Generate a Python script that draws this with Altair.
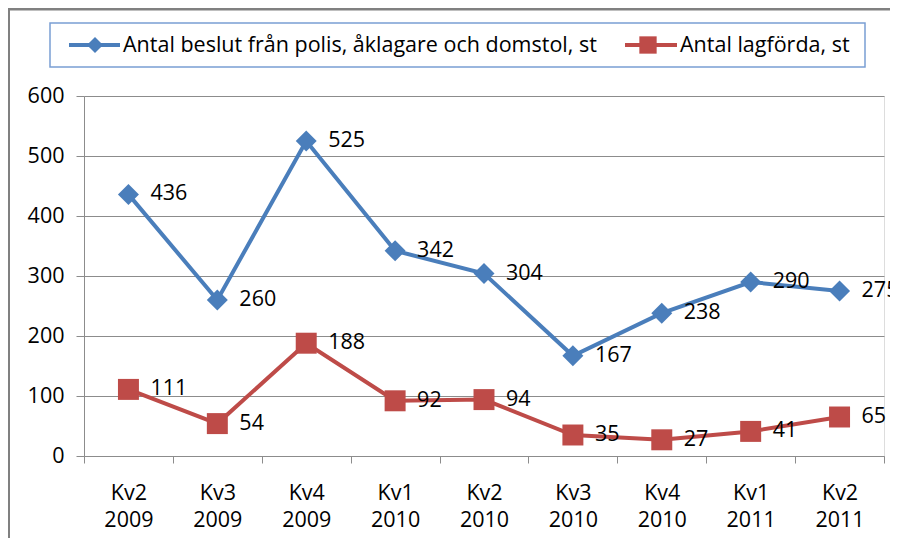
import altair as alt
import pandas as pd

categories = ["Kv2 2009", "Kv3 2009", "Kv4 2009", "Kv1 2010", "Kv2 2010",
              "Kv3 2010", "Kv4 2010", "Kv1 2011", "Kv2 2011"]
series_names = ["Antal beslut från polis, åklagare och domstol, st", "Antal lagförda, st"]
beslut = [436, 260, 525, 342, 304, 167, 238, 290, 275]
lagforda = [111, 54, 188, 92, 94, 35, 27, 41, 65]
y_ticks = [0, 100, 200, 300, 400, 500, 600]

BLUE = "#4a7ebb"
RED = "#be4b48"
GRID = "#8c8c8c"
FONT = "Open Sans"
FS = 21.5

rows = []
for c, v in zip(categories, beslut):
    rows.append({"cat": c, "series": series_names[0], "value": v})
for c, v in zip(categories, lagforda):
    rows.append({"cat": c, "series": series_names[1], "value": v})
df = pd.DataFrame(rows)

x_enc = alt.X("cat:N", sort=categories, title=None,
              scale=alt.Scale(type="band", paddingInner=0, paddingOuter=0),
              axis=alt.Axis(tickBand="extent", labelExpr="split(datum.label, ' ')",
                            labelAngle=0, labelFont=FONT, labelFontSize=FS, labelColor="#000",
                            labelPadding=19, labelLineHeight=27, domainColor=GRID,
                            tickColor=GRID, tickSize=7, grid=False))
y_enc = alt.Y("value:Q", title=None,
              scale=alt.Scale(domain=[0, 600], nice=False),
              axis=alt.Axis(values=y_ticks, labelFont=FONT, labelFontSize=FS, labelColor="#000",
                            labelPadding=12, tickSize=8, tickColor=GRID, domainColor=GRID,
                            grid=True, gridColor=GRID, gridWidth=1))
color_enc = alt.Color("series:N", scale=alt.Scale(domain=series_names, range=[BLUE, RED]), legend=None)
shape_enc = alt.Shape("series:N", scale=alt.Scale(domain=series_names, range=["diamond", "square"]), legend=None)

base = alt.Chart(df).encode(x=x_enc, y=y_enc, color=color_enc)
lines = base.mark_line(strokeWidth=4)
points = base.mark_point(filled=True, size=440, opacity=1).encode(shape=shape_enc)
labels = base.mark_text(align="left", baseline="middle", dx=22, font=FONT, fontSize=FS,
                        color="#000").encode(text="value:Q", color=alt.value("#000"))

# legend box and items (pixel positions relative to plot area)
one = pd.DataFrame({"a": [0]})
leg_box = alt.Chart(one).mark_rect(fill="white", stroke="#7a9fd4", strokeWidth=1.5).encode(
    x=alt.value(-34), x2=alt.value(781), y=alt.value(-73), y2=alt.value(-29))
leg_line_b = alt.Chart(one).mark_rule(color=BLUE, strokeWidth=4).encode(
    x=alt.value(-15), x2=alt.value(36), y=alt.value(-51))
leg_pt_b = alt.Chart(one).mark_point(shape="diamond", filled=True, size=260, color=BLUE, opacity=1).encode(
    x=alt.value(11), y=alt.value(-51))
leg_txt_b = alt.Chart(one).mark_text(align="left", baseline="middle", font=FONT, fontSize=FS, color="#000",
                                     text=series_names[0]).encode(x=alt.value(39), y=alt.value(-50))
leg_line_r = alt.Chart(one).mark_rule(color=RED, strokeWidth=4).encode(
    x=alt.value(541), x2=alt.value(593), y=alt.value(-51))
leg_pt_r = alt.Chart(one).mark_point(shape="square", filled=True, size=300, color=RED, opacity=1).encode(
    x=alt.value(564), y=alt.value(-51))
leg_txt_r = alt.Chart(one).mark_text(align="left", baseline="middle", font=FONT, fontSize=FS, color="#000",
                                     text=series_names[1]).encode(x=alt.value(596), y=alt.value(-50))

frame_top = alt.Chart(one).mark_rule(color="#808080", strokeWidth=3).encode(
    x=alt.value(-76), x2=alt.value(806), y=alt.value(-87))
frame_left = alt.Chart(one).mark_rule(color="#808080", strokeWidth=2).encode(
    x=alt.value(-75), y=alt.value(-88), y2=alt.value(442))

chart = alt.layer(
    frame_top, frame_left,
    lines, points, labels,
    leg_box, leg_line_b, leg_pt_b, leg_txt_b, leg_line_r, leg_pt_r, leg_txt_r,
).properties(
    width=800, height=360,
    autosize=alt.AutoSizeParams(type="none"),
    padding={"left": 76, "top": 88, "right": 6, "bottom": 82},
).configure_view(stroke=None).configure(background="white")

chart.save("out.html", embed_options={"renderer": "svg", "actions": False})
